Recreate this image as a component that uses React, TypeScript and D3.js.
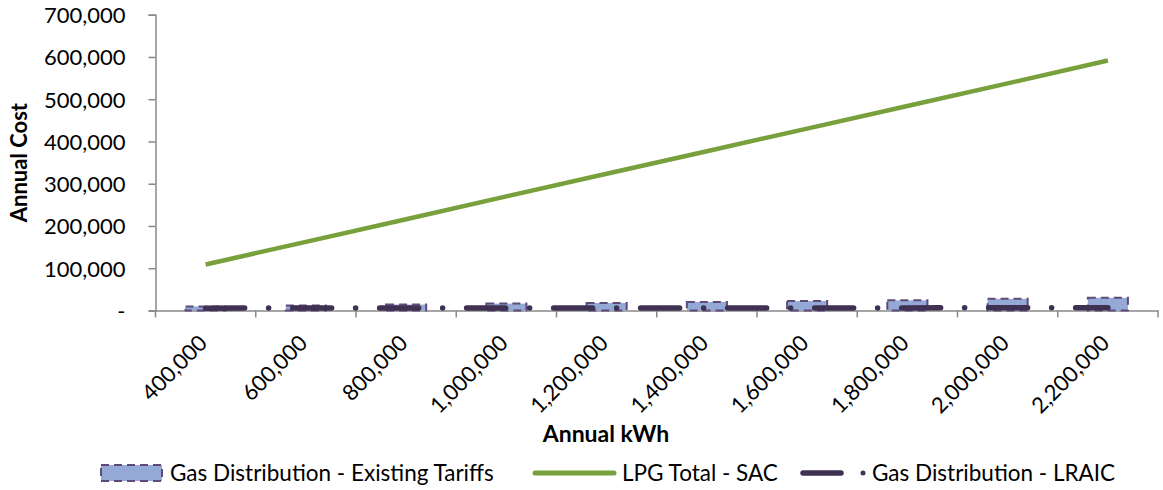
import React, { useEffect, useRef } from 'react';
import * as d3 from 'd3';

// Annual kWh categories
const categories = ['400,000', '600,000', '800,000', '1,000,000', '1,200,000', '1,400,000', '1,600,000', '1,800,000', '2,000,000', '2,200,000'];

// Annual cost per series
const existingTariffs = [9500, 11800, 14000, 16300, 17800, 20200, 22400, 24000, 27600, 30000];
const lpgTotalSac = [109000, 162500, 216000, 270000, 323500, 377000, 430500, 484000, 537500, 591500];
const lraic = [5600, 5700, 5800, 5800, 5900, 6000, 6100, 6200, 6300, 6400];

const yTicks = [0, 100000, 200000, 300000, 400000, 500000, 600000, 700000];

const legendItems = ['Gas Distribution - Existing Tariffs', 'LPG Total - SAC', 'Gas Distribution - LRAIC'];

const FONT = 'Lato, "Open Sans", sans-serif';
const BAR_FILL = '#95A9D6';
const BAR_EDGE = '#5F4A7B';
const GREEN = '#78A03C';
const DARK = '#3F3152';
const AXIS = '#888888';

function App() {
  const svgRef = useRef<SVGSVGElement>(null);
  const width = 1163;
  const height = 490;

  useEffect(() => {
    if (!svgRef.current) return;
    const svg = d3.select(svgRef.current);
    svg.selectAll('*').remove();

    const plot = { left: 155.5, right: 1158, top: 14.7, bottom: 310.5 };

    const x = d3.scaleBand<string>()
      .domain(categories)
      .range([plot.left, plot.right])
      .paddingInner(0)
      .paddingOuter(0);

    const y = d3.scaleLinear()
      .domain([0, 700000])
      .range([plot.bottom, plot.top]);

    const cx = (i: number) => (x(categories[i]) || 0) + x.bandwidth() / 2;
    const barW = x.bandwidth() / 2.5;

    // Y axis
    const yAxis = svg.append('g')
      .attr('transform', `translate(${plot.left},0)`)
      .call(d3.axisLeft(y).tickValues(yTicks).tickSize(7).tickPadding(23)
        .tickFormat(d => (+d === 0 ? '-' : d3.format(',')(+d))));
    yAxis.select('.domain').attr('stroke', AXIS).attr('stroke-width', 1.5);
    yAxis.selectAll('.tick line').attr('stroke', AXIS).attr('stroke-width', 1.5);
    yAxis.selectAll('.tick text')
      .attr('fill', '#000')
      .style('font-family', FONT)
      .style('font-size', '22px')
      .attr('dy', '0.36em');

    // X axis
    const xAxis = svg.append('g')
      .attr('transform', `translate(0,${plot.bottom})`)
      .call(d3.axisBottom(x).tickSize(0).tickFormat(() => ''));
    xAxis.select('.domain').attr('stroke', AXIS).attr('stroke-width', 1.5);
    xAxis.selectAll('.tick').remove();

    // category boundary ticks
    const bounds = d3.range(categories.length + 1).map(i => plot.left + i * x.bandwidth());
    svg.append('g').selectAll('line')
      .data(bounds)
      .enter().append('line')
      .attr('x1', d => d).attr('x2', d => d)
      .attr('y1', plot.bottom).attr('y2', plot.bottom + 7)
      .attr('stroke', AXIS).attr('stroke-width', 1.5);

    // rotated x labels
    svg.append('g').selectAll('text')
      .data(categories)
      .enter().append('text')
      .attr('transform', (_, i) => `translate(${cx(i) + 3},${plot.bottom + 34}) rotate(-45)`)
      .attr('text-anchor', 'end')
      .style('font-family', FONT)
      .style('font-size', '22px')
      .attr('fill', '#000')
      .text(d => d);

    // bars
    svg.append('g').selectAll('rect')
      .data(existingTariffs)
      .enter().append('rect')
      .attr('x', (_, i) => cx(i) - barW / 2)
      .attr('y', d => y(d))
      .attr('width', barW)
      .attr('height', d => plot.bottom - y(d))
      .attr('fill', BAR_FILL)
      .attr('stroke', BAR_EDGE)
      .attr('stroke-width', 2)
      .attr('stroke-dasharray', '8 5');

    const line = d3.line<number>()
      .x((_, i) => cx(i))
      .y(d => y(d));

    // LRAIC dash-dot line
    svg.append('path')
      .datum(lraic)
      .attr('d', line)
      .attr('fill', 'none')
      .attr('stroke', DARK)
      .attr('stroke-width', 5.5)
      .attr('stroke-linecap', 'round')
      .attr('stroke-dasharray', '39 24 0 24');

    // LPG line
    svg.append('path')
      .datum(lpgTotalSac)
      .attr('d', line)
      .attr('fill', 'none')
      .attr('stroke', GREEN)
      .attr('stroke-width', 4.5)
      .attr('stroke-linejoin', 'round');

    // axis titles
    svg.append('text')
      .attr('transform', `translate(27,${(plot.top + plot.bottom) / 2}) rotate(-90)`)
      .attr('text-anchor', 'middle')
      .style('font-family', FONT)
      .style('font-size', '22px')
      .style('font-weight', 'bold')
      .text('Annual Cost');

    svg.append('text')
      .attr('x', 606)
      .attr('y', 442)
      .attr('text-anchor', 'middle')
      .style('font-family', FONT)
      .style('font-size', '23px')
      .style('font-weight', 'bold')
      .text('Annual kWh');

    // legend
    const leg = svg.append('g');
    const ly = 473;
    leg.append('rect')
      .attr('x', 101).attr('y', 465).attr('width', 61).attr('height', 16)
      .attr('fill', BAR_FILL).attr('stroke', BAR_EDGE).attr('stroke-width', 2)
      .attr('stroke-dasharray', '8 5');
    leg.append('line')
      .attr('x1', 535).attr('x2', 614).attr('y1', ly).attr('y2', ly)
      .attr('stroke', GREEN).attr('stroke-width', 5).attr('stroke-linecap', 'round');
    leg.append('line')
      .attr('x1', 803).attr('x2', 841).attr('y1', ly).attr('y2', ly)
      .attr('stroke', DARK).attr('stroke-width', 5.5).attr('stroke-linecap', 'round');
    leg.append('circle')
      .attr('cx', 863).attr('cy', ly).attr('r', 2.5).attr('fill', DARK);

    const textX = [170, 622, 872];
    leg.selectAll('text.leg')
      .data(legendItems)
      .enter().append('text')
      .attr('class', 'leg')
      .attr('x', (_, i) => textX[i])
      .attr('y', 481)
      .style('font-family', FONT)
      .style('font-size', '22.5px')
      .attr('fill', '#000')
      .text(d => d);
  }, []);

  return (
    <svg ref={svgRef} width={width} height={height}
      style={{ position: 'absolute', left: 0, top: 0, background: '#fff' }} />
  );
}

export default App;
